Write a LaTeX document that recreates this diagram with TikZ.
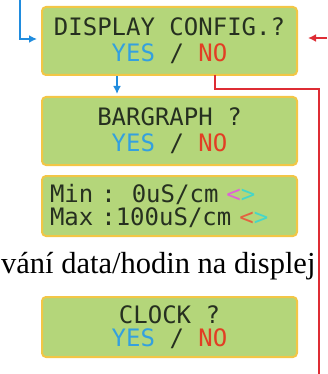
\documentclass[tikz,border=0pt]{standalone}
\usepackage{fontspec}
\setmainfont{Liberation Serif}
\newfontfamily\lcdfont{DejaVu Sans Mono}
\usetikzlibrary{arrows.meta,calc,positioning}
\definecolor{LcdGreen}{RGB}{180,214,122}
\definecolor{LcdFrame}{RGB}{242,198,70}
\definecolor{LcdInk}{RGB}{38,48,32}
\definecolor{KeyBlue}{RGB}{52,160,222}
\definecolor{KeyRed}{RGB}{226,62,36}
\definecolor{FlowBlue}{RGB}{32,140,222}
\definecolor{FlowRed}{RGB}{222,44,52}
\definecolor{ChevPink}{RGB}{222,100,214}
\definecolor{ChevCyan}{RGB}{70,214,200}
\definecolor{ChevOrange}{RGB}{228,98,64}
\newcommand{\yesno}{\textcolor{KeyBlue}{YES} / \textcolor{KeyRed}{NO}}
\tikzset{
  lcd/.style={draw=LcdFrame,fill=LcdGreen,line width=2pt,rounded corners=4pt,
    minimum width=255pt,text=LcdInk,font=\lcdfont\fontsize{24}{26}\selectfont,align=center},
  flowblue/.style={line width=2pt,FlowBlue,-{Latex[length=8pt,width=8pt]}},
  flowred/.style={line width=2pt,FlowRed}
}
\begin{document}
\begin{tikzpicture}[x=1pt,y=-1pt]
  \useasboundingbox (0,0) rectangle (327,374);
  \node[lcd,minimum height=68pt] (config) at (169.5,41) {DISPLAY CONFIG.?\\\yesno};
  \node[lcd,minimum height=68pt] (bargraph) at (169.5,131) {BARGRAPH ?\\\yesno};
  \node[lcd,minimum height=60pt,align=left,text width=239pt,inner xsep=8pt,
    font=\lcdfont\fontsize{24}{22.5}\selectfont] (range) at (169.5,206)
    {Min :\ \ 0uS/cm \textcolor{ChevPink}{<}\textcolor{ChevCyan}{>}\\
     Max :100uS/cm \textcolor{ChevOrange}{<}\textcolor{ChevCyan}{>}};
  \node[lcd,minimum height=60pt,font=\lcdfont\fontsize{24}{23}\selectfont] (clock) at (169.5,327) {CLOCK ?\\\yesno};
  % vstupy a vetev NO
  \coordinate (inBlue) at (20,0);
  \coordinate (inRed) at (327,38);
  \coordinate (noOut) at (215,75);
  \coordinate (noTurn) at (319,89);
  \coordinate (noEnd) at (319,374);
  \draw[flowblue,shorten >=4pt] (inBlue) |- ([yshift=2pt]config.west);
  \draw[flowred,-{Latex[length=8pt,width=8pt]},shorten >=10pt] (inRed) -- (inRed -| config.east);
  \draw[flowblue,shorten >=2pt] (config.south -| 117,0) -- (bargraph.north -| 117,0);
  \draw[flowred] (noOut) |- (noTurn) -- (noEnd);
  \node[fill=white,inner sep=0pt,text height=23pt,text depth=17pt,anchor=base west,
    font=\fontsize{30.5}{32}\selectfont] (caption) at (1,273) {vání data/hodin na displej};
\end{tikzpicture}
\end{document}
